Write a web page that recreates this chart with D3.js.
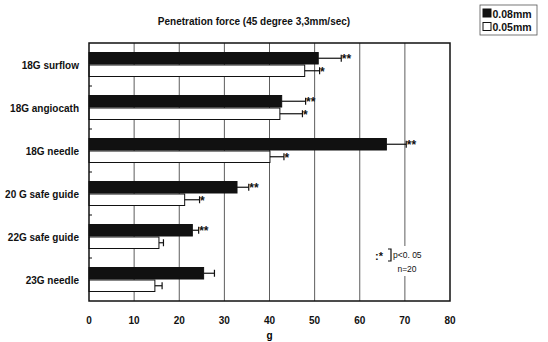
<!DOCTYPE html>
<html>
<head>
<meta charset="utf-8">
<script src="https://cdn.jsdelivr.net/npm/d3@7"></script>
<style>
  body { margin: 0; background: #fff; }
  svg { display: block; }
</style>
</head>
<body>
<script>
// 数据
const categories = ["18G surflow", "18G angiocath", "18G needle", "20 G safe guide", "22G safe guide", "23G needle"];
const series = ["0.08mm", "0.05mm"];
const thickVals = [50.8, 42.7, 65.9, 32.8, 22.9, 25.4];   // 0.08mm
const thickErr  = [5.1, 5.3, 4.4, 2.6, 1.4, 2.4];
const thinVals  = [47.8, 42.3, 40.1, 21.2, 15.5, 14.6];   // 0.05mm
const thinErr   = [3.3, 5.0, 3.1, 3.3, 1.0, 1.6];
const thickStars = ["**", "**", "**", "**", "**", ""];
const thinStars  = ["*", "*", "*", "*", "", ""];
const xTicks = [0, 10, 20, 30, 40, 50, 60, 70, 80];

const width = 548, height = 342;
const margin = { left: 89, right: 98, top: 43, bottom: 41 };
const font = "'Liberation Sans', Arial, sans-serif";

const svg = d3.select("body").append("svg")
  .attr("width", width)
  .attr("height", height)
  .style("font-family", font);

const x = d3.scaleLinear().domain([0, 80]).range([margin.left, width - margin.right]);
const y = d3.scaleBand().domain(categories).range([margin.top, height - margin.bottom]);

const barH = 11.5;

// 网格线
svg.append("g")
  .selectAll("line")
  .data(xTicks.slice(1, -1))
  .join("line")
  .attr("x1", d => x(d)).attr("x2", d => x(d))
  .attr("y1", y.range()[0]).attr("y2", y.range()[1])
  .attr("stroke", "#333")
  .attr("stroke-width", 0.8);

// 柱
const rows = categories.map((c, i) => [
  { c, v: thickVals[i], e: thickErr[i], s: thickStars[i], k: 0 },
  { c, v: thinVals[i], e: thinErr[i], s: thinStars[i], k: 1 }
]).flat();

const barY = d => y(d.c) + (d.k === 0 ? 9.5 : 22);

svg.append("g")
  .selectAll("rect")
  .data(rows)
  .join("rect")
  .attr("x", x(0))
  .attr("y", barY)
  .attr("width", d => x(d.v) - x(0))
  .attr("height", barH)
  .attr("fill", d => d.k === 0 ? "#111" : "#fff")
  .attr("stroke", "#111")
  .attr("stroke-width", 1);

// 误差线
const err = svg.append("g").attr("stroke", "#111").attr("stroke-width", 1.2);
err.selectAll("line.h")
  .data(rows)
  .join("line")
  .attr("class", "h")
  .attr("x1", d => x(d.v)).attr("x2", d => x(d.v + d.e))
  .attr("y1", d => barY(d) + barH / 2).attr("y2", d => barY(d) + barH / 2);
err.selectAll("line.c")
  .data(rows)
  .join("line")
  .attr("class", "c")
  .attr("x1", d => x(d.v + d.e)).attr("x2", d => x(d.v + d.e))
  .attr("y1", d => barY(d) + barH / 2 - 3.5).attr("y2", d => barY(d) + barH / 2 + 3.5);

// 星号
svg.append("g")
  .selectAll("text")
  .data(rows.filter(d => d.s))
  .join("text")
  .attr("x", d => x(d.v + d.e) + 0.5)
  .attr("y", d => barY(d) + barH / 2 + 5)
  .attr("font-size", 12)
  .attr("font-weight", "bold")
  .attr("fill", "#111")
  .text(d => d.s);

// 边框
svg.append("rect")
  .attr("x", x(0)).attr("y", y.range()[0])
  .attr("width", x(80) - x(0)).attr("height", y.range()[1] - y.range()[0])
  .attr("fill", "none")
  .attr("stroke", "#111")
  .attr("stroke-width", 1.5);

// 左侧刻度
svg.append("g")
  .selectAll("line")
  .data(categories.slice(1))
  .join("line")
  .attr("x1", x(0)).attr("x2", x(0) + 3)
  .attr("y1", d => y(d)).attr("y2", d => y(d))
  .attr("stroke", "#111");

// 类别标签
svg.append("g")
  .selectAll("text")
  .data(categories)
  .join("text")
  .attr("x", 79)
  .attr("y", d => y(d) + y.bandwidth() / 2 + 4)
  .attr("text-anchor", "end")
  .attr("font-size", 10)
  .attr("font-weight", "bold")
  .attr("fill", "#111")
  .text(d => d);

// x 轴刻度标签
svg.append("g")
  .selectAll("text")
  .data(xTicks)
  .join("text")
  .attr("x", d => x(d))
  .attr("y", 324)
  .attr("text-anchor", "middle")
  .attr("font-size", 10)
  .attr("font-weight", "bold")
  .attr("fill", "#111")
  .text(d => d);

svg.append("text")
  .attr("x", (x(0) + x(80)) / 2)
  .attr("y", 339)
  .attr("text-anchor", "middle")
  .attr("font-size", 10)
  .attr("font-weight", "bold")
  .text("g");

// 标题
svg.append("text")
  .attr("x", 254)
  .attr("y", 25)
  .attr("text-anchor", "middle")
  .attr("font-size", 10)
  .attr("font-weight", "bold")
  .attr("fill", "#111")
  .text("Penetration force (45 degree 3,3mm/sec)");

// 图例
const legend = svg.append("g").attr("transform", "translate(480,5)");
legend.append("rect")
  .attr("width", 57).attr("height", 30)
  .attr("fill", "#fff").attr("stroke", "#555").attr("stroke-width", 0.8);
series.forEach((s, i) => {
  legend.append("rect")
    .attr("x", 3).attr("y", 4 + i * 13.5)
    .attr("width", 8).attr("height", 8)
    .attr("fill", i === 0 ? "#111" : "#fff")
    .attr("stroke", "#111");
  legend.append("text")
    .attr("x", 12.5).attr("y", 12.5 + i * 13.5)
    .attr("font-size", 10.5)
    .attr("font-weight", "bold")
    .attr("fill", "#111")
    .text(s);
});

// 注释
const note = svg.append("g").attr("fill", "#111");
note.append("rect").attr("x", 372).attr("y", 246).attr("width", 60).attr("height", 30).attr("fill", "#fff");
note.append("text").attr("x", 375).attr("y", 260).attr("font-size", 11).attr("font-weight", "bold").text(":*");
note.append("path")
  .attr("d", "M388,249 H391 V261 H388")
  .attr("fill", "none").attr("stroke", "#111").attr("stroke-width", 1.2);
note.append("text").attr("x", 393).attr("y", 258).attr("font-size", 8.5).text("p<0. 05");
note.append("text").attr("x", 407).attr("y", 272).attr("font-size", 8.5).attr("text-anchor", "middle").text("n=20");
</script>
</body>
</html>
